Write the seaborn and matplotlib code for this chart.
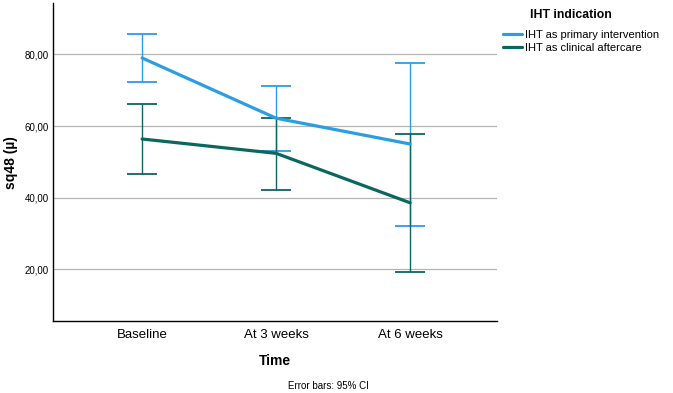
import numpy as np
import pandas as pd
import matplotlib
matplotlib.use("Agg")
import matplotlib.pyplot as plt
import seaborn as sns

# values
time_points = ["Baseline", "At 3 weeks", "At 6 weeks"]
groups = ["IHT as primary intervention", "IHT as clinical aftercare"]
primary_mean = [79.0, 62.2, 55.0]
primary_low = [72.3, 53.1, 32.1]
primary_high = [85.8, 71.2, 77.6]
aftercare_mean = [56.4, 52.4, 38.6]
aftercare_low = [46.6, 42.2, 19.2]
aftercare_high = [66.1, 62.3, 57.8]
y_ticks = [20, 40, 60, 80]

line_colors = ["#2b9de2", "#0c6660"]
cap_colors = ["#5cb6ec", "#3f8580"]

df = pd.DataFrame({
    "Time": time_points * 2,
    "group": [groups[0]] * 3 + [groups[1]] * 3,
    "mean": primary_mean + aftercare_mean,
})

sns.set_style("white")
plt.rcParams["font.family"] = ["Liberation Sans", "DejaVu Sans"]
for key in ["text.color", "axes.labelcolor", "xtick.color", "ytick.color"]:
    plt.rcParams[key] = "black"

fig = plt.figure(figsize=(6.73, 3.93), dpi=100)
ax = fig.add_axes([0.0788, 0.183, 0.660, 0.809])

# horizontal grid lines
for t in y_ticks:
    ax.axhline(t, color="#b4b4b4", lw=0.9, zorder=0)

# error bars (95% CI)
x_pos = np.arange(len(time_points))
for means, lows, highs, lc, cc in [
    (primary_mean, primary_low, primary_high, line_colors[0], cap_colors[0]),
    (aftercare_mean, aftercare_low, aftercare_high, line_colors[1], cap_colors[1]),
]:
    m = np.array(means)
    err = [m - np.array(lows), np.array(highs) - m]
    _, caps, bars = ax.errorbar(x_pos, m, yerr=err, fmt="none", ecolor=lc,
                                elinewidth=1.0, capsize=10.8, capthick=1.3, zorder=2)
    for c in caps:
        c.set_color(cc)

sns.lineplot(data=df, x="Time", y="mean", hue="group", palette=line_colors,
             sort=False, lw=2.3, ax=ax, legend=False, zorder=3)

ax.set_xlim(-0.665, 2.65)
ax.set_ylim(5.6, 94.3)
ax.set_yticks(y_ticks)
ax.set_yticklabels([f"{t},00" for t in y_ticks], fontsize=7)
ax.set_xticks(x_pos)
ax.set_xticklabels(time_points, fontsize=9.5)
ax.tick_params(axis="both", length=0)
ax.tick_params(axis="y", pad=3)
ax.tick_params(axis="x", pad=6)
for side in ["top", "right"]:
    ax.spines[side].set_visible(False)
for side in ["left", "bottom"]:
    ax.spines[side].set_color("black")
    ax.spines[side].set_linewidth(1.0)

ax.set_xlabel("Time", fontsize=10, fontweight="bold", labelpad=9)
ax.set_ylabel("sq48 (µ)", fontsize=10, fontweight="bold")
ax.yaxis.set_label_coords(-0.079, 0.5)

fig.text(0.488, 0.018, "Error bars: 95% CI", fontsize=7, ha="center", va="center")

# legend
fig.text(0.8484, 0.962, "IHT indication", fontsize=8.8, fontweight="bold",
         ha="center", va="center")
handles = [plt.Line2D([], [], color=c, lw=2.3) for c in line_colors]
leg = fig.legend(handles, groups, loc="upper left",
                 bbox_to_anchor=(0.7474, 0.924), frameon=False, fontsize=8,
                 handlelength=1.75, handletextpad=0.2, labelspacing=0.3,
                 borderaxespad=0.0, borderpad=0.0)

fig.savefig("out.png", dpi=100)
